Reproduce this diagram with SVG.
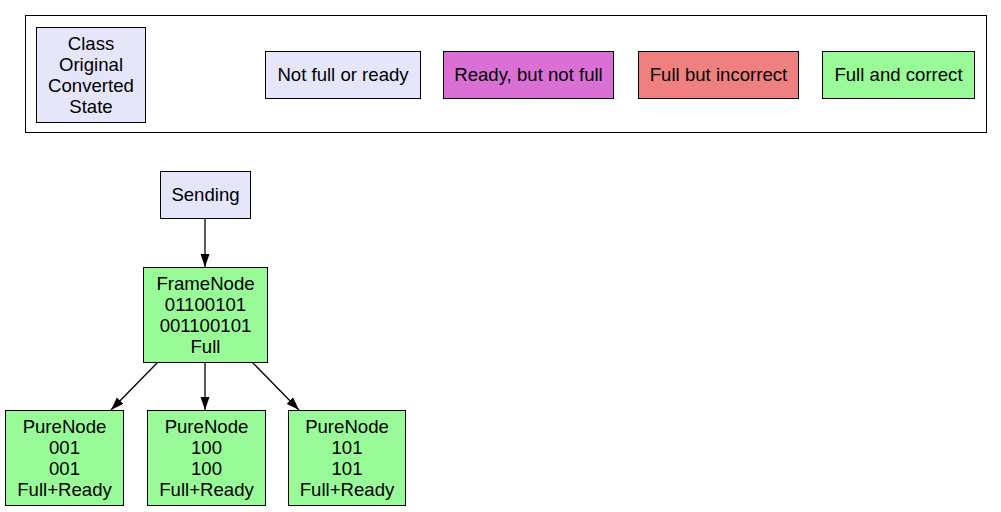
<svg xmlns="http://www.w3.org/2000/svg" width="1001" height="512" viewBox="0 0 1001 512">
<defs>
<style>
text{font-family:"Liberation Sans",Arial,sans-serif;font-size:18.6px;fill:#000;text-anchor:middle}
.n{stroke:#000;stroke-width:1}
.lav{fill:#e6e6fa}.orc{fill:#da70d6}.cor{fill:#f08080}.grn{fill:#98fb98}
.e{stroke:#000;stroke-width:1.3;fill:none}
</style>
<marker id="ah" viewBox="0 0 13 10" refX="13" refY="5" markerWidth="13" markerHeight="10" markerUnits="userSpaceOnUse" orient="auto">
<path d="M0,0.5 L13,5 L0,9.5 Z" fill="#000"/>
</marker>
</defs>
<rect width="1001" height="512" fill="#fff"/>
<g id="legend">
<rect x="25.5" y="15.5" width="961" height="117" fill="none" stroke="#000"/>
<g id="leg-class"><rect class="n lav" x="36.5" y="27.5" width="109" height="95"/>
<text x="91" y="49.5">Class</text><text x="91" y="70.5">Original</text><text x="91" y="91.5">Converted</text><text x="91" y="112.5">State</text></g>
<g id="leg-notfull"><rect class="n lav" x="265.5" y="51.5" width="155" height="47"/><text x="343" y="81">Not full or ready</text></g>
<g id="leg-ready"><rect class="n orc" x="443.5" y="51.5" width="170" height="47"/><text x="528.5" y="81">Ready, but not full</text></g>
<g id="leg-incorrect"><rect class="n cor" x="638.5" y="51.5" width="160" height="47"/><text x="718.5" y="81">Full but incorrect</text></g>
<g id="leg-correct"><rect class="n grn" x="822.5" y="51.5" width="152" height="47"/><text x="898.5" y="81">Full and correct</text></g>
</g>
<g id="connectors">
<line class="e" x1="205" y1="218" x2="205" y2="267" marker-end="url(#ah)"/>
<line class="e" x1="158" y1="362" x2="111" y2="410" marker-end="url(#ah)"/>
<line class="e" x1="205" y1="362" x2="205" y2="410" marker-end="url(#ah)"/>
<line class="e" x1="252" y1="362" x2="299" y2="410" marker-end="url(#ah)"/>
</g>
<g id="sending"><rect class="n lav" x="160.5" y="171.5" width="90" height="47"/><text x="205.5" y="201">Sending</text></g>
<g id="framenode"><rect class="n grn" x="143.5" y="267.5" width="124" height="95"/>
<text x="205.5" y="289.5">FrameNode</text><text x="205.5" y="310.5">01100101</text><text x="205.5" y="331.5">001100101</text><text x="205.5" y="352.5">Full</text></g>
<g id="pure001"><rect class="n grn" x="5.5" y="410.5" width="118" height="95"/>
<text x="64.5" y="432.5">PureNode</text><text x="64.5" y="453.5">001</text><text x="64.5" y="474.5">001</text><text x="64.5" y="495.5">Full+Ready</text></g>
<g id="pure100"><rect class="n grn" x="147.5" y="410.5" width="118" height="95"/>
<text x="206.5" y="432.5">PureNode</text><text x="206.5" y="453.5">100</text><text x="206.5" y="474.5">100</text><text x="206.5" y="495.5">Full+Ready</text></g>
<g id="pure101"><rect class="n grn" x="288.5" y="410.5" width="117" height="95"/>
<text x="347" y="432.5">PureNode</text><text x="347" y="453.5">101</text><text x="347" y="474.5">101</text><text x="347" y="495.5">Full+Ready</text></g>
</svg>
